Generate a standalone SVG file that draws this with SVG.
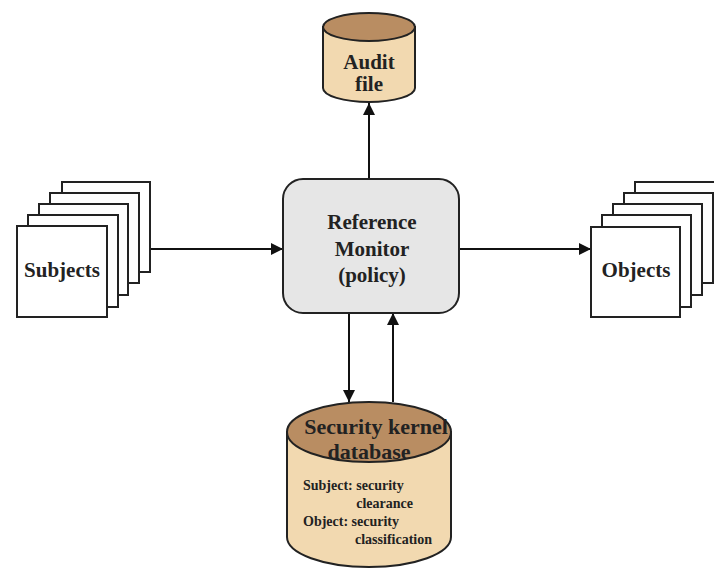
<svg xmlns="http://www.w3.org/2000/svg" width="714" height="570" viewBox="0 0 714 570">
  <style>
    .card { fill: #ffffff; stroke: #222; stroke-width: 2; }
    .label { font-family: "Liberation Serif", "Times New Roman", serif; font-weight: bold; fill: #222; text-anchor: middle; }
    .small { font-family: "Liberation Serif", "Times New Roman", serif; font-weight: bold; fill: #222; font-size: 14px; }
    .side { fill: #f2d9b0; stroke: #222; stroke-width: 2; }
    .lid { fill: #b98d62; stroke: #222; stroke-width: 2; }
    .conn { stroke: #111; stroke-width: 2; fill: none; }
  </style>
  <defs>
    <marker id="arrow" viewBox="0 0 10 10" refX="10" refY="5" markerWidth="6" markerHeight="6" markerUnits="strokeWidth" orient="auto">
      <path d="M0,0 L10,5 L0,10 z" fill="#111"/>
    </marker>
  </defs>
  <rect width="714" height="570" fill="#ffffff"/>

  <!-- Connectors -->
  <g id="connectors">
    <line class="conn" x1="150" y1="249" x2="283" y2="249" marker-end="url(#arrow)"/>
    <line class="conn" x1="459" y1="249" x2="591" y2="249" marker-end="url(#arrow)"/>
    <line class="conn" x1="369" y1="179" x2="369" y2="103" marker-end="url(#arrow)"/>
    <line class="conn" x1="349" y1="313" x2="349" y2="402" marker-end="url(#arrow)"/>
    <line class="conn" x1="393" y1="402" x2="393" y2="313" marker-end="url(#arrow)"/>
  </g>

  <!-- Audit file store -->
  <g id="audit-file">
    <path class="side" d="M323,27 L323,88 A46,14 0 0 0 415,88 L415,27 Z"/>
    <ellipse class="lid" cx="369" cy="27" rx="46" ry="14"/>
    <text class="label" font-size="21" x="369" y="69">Audit</text>
    <text class="label" font-size="21" x="369" y="91">file</text>
  </g>

  <!-- Subjects stack -->
  <g id="subjects">
    <rect class="card" x="62" y="182" width="88" height="90"/>
    <rect class="card" x="50" y="193" width="89" height="90"/>
    <rect class="card" x="39" y="204" width="89" height="91"/>
    <rect class="card" x="28" y="215" width="90" height="92"/>
    <rect class="card" x="17" y="226" width="90" height="91"/>
    <text class="label" font-size="21" x="62" y="277">Subjects</text>
  </g>

  <!-- Reference monitor -->
  <g id="reference-monitor">
    <rect x="283" y="179" width="176" height="134" rx="20" ry="20" fill="#e6e6e6" stroke="#222" stroke-width="2"/>
    <text class="label" font-size="21" x="372" y="229">Reference</text>
    <text class="label" font-size="21" x="372" y="256">Monitor</text>
    <text class="label" font-size="21" x="372" y="282">(policy)</text>
  </g>

  <!-- Objects stack -->
  <g id="objects">
    <rect class="card" x="635" y="182" width="90" height="90"/>
    <rect class="card" x="624" y="193" width="89" height="90"/>
    <rect class="card" x="613" y="204" width="89" height="91"/>
    <rect class="card" x="602" y="215" width="89" height="92"/>
    <rect class="card" x="591" y="227" width="89" height="90"/>
    <text class="label" font-size="21" x="636" y="277">Objects</text>
  </g>

  <!-- Security kernel database -->
  <g id="security-kernel-db">
    <path class="side" d="M287,432 L287,537 A82,30 0 0 0 451,537 L451,432 Z"/>
    <ellipse class="lid" cx="369" cy="432" rx="82" ry="30"/>
    <text class="label" font-size="22" x="376" y="434">Security kernel</text>
    <text class="label" font-size="22" x="369" y="459">database</text>
    <text class="small" x="303" y="490">Subject: security</text>
    <text class="small" x="413" y="508" text-anchor="end">clearance</text>
    <text class="small" x="303" y="526">Object: security</text>
    <text class="small" x="432" y="544" text-anchor="end">classification</text>
  </g>
</svg>
